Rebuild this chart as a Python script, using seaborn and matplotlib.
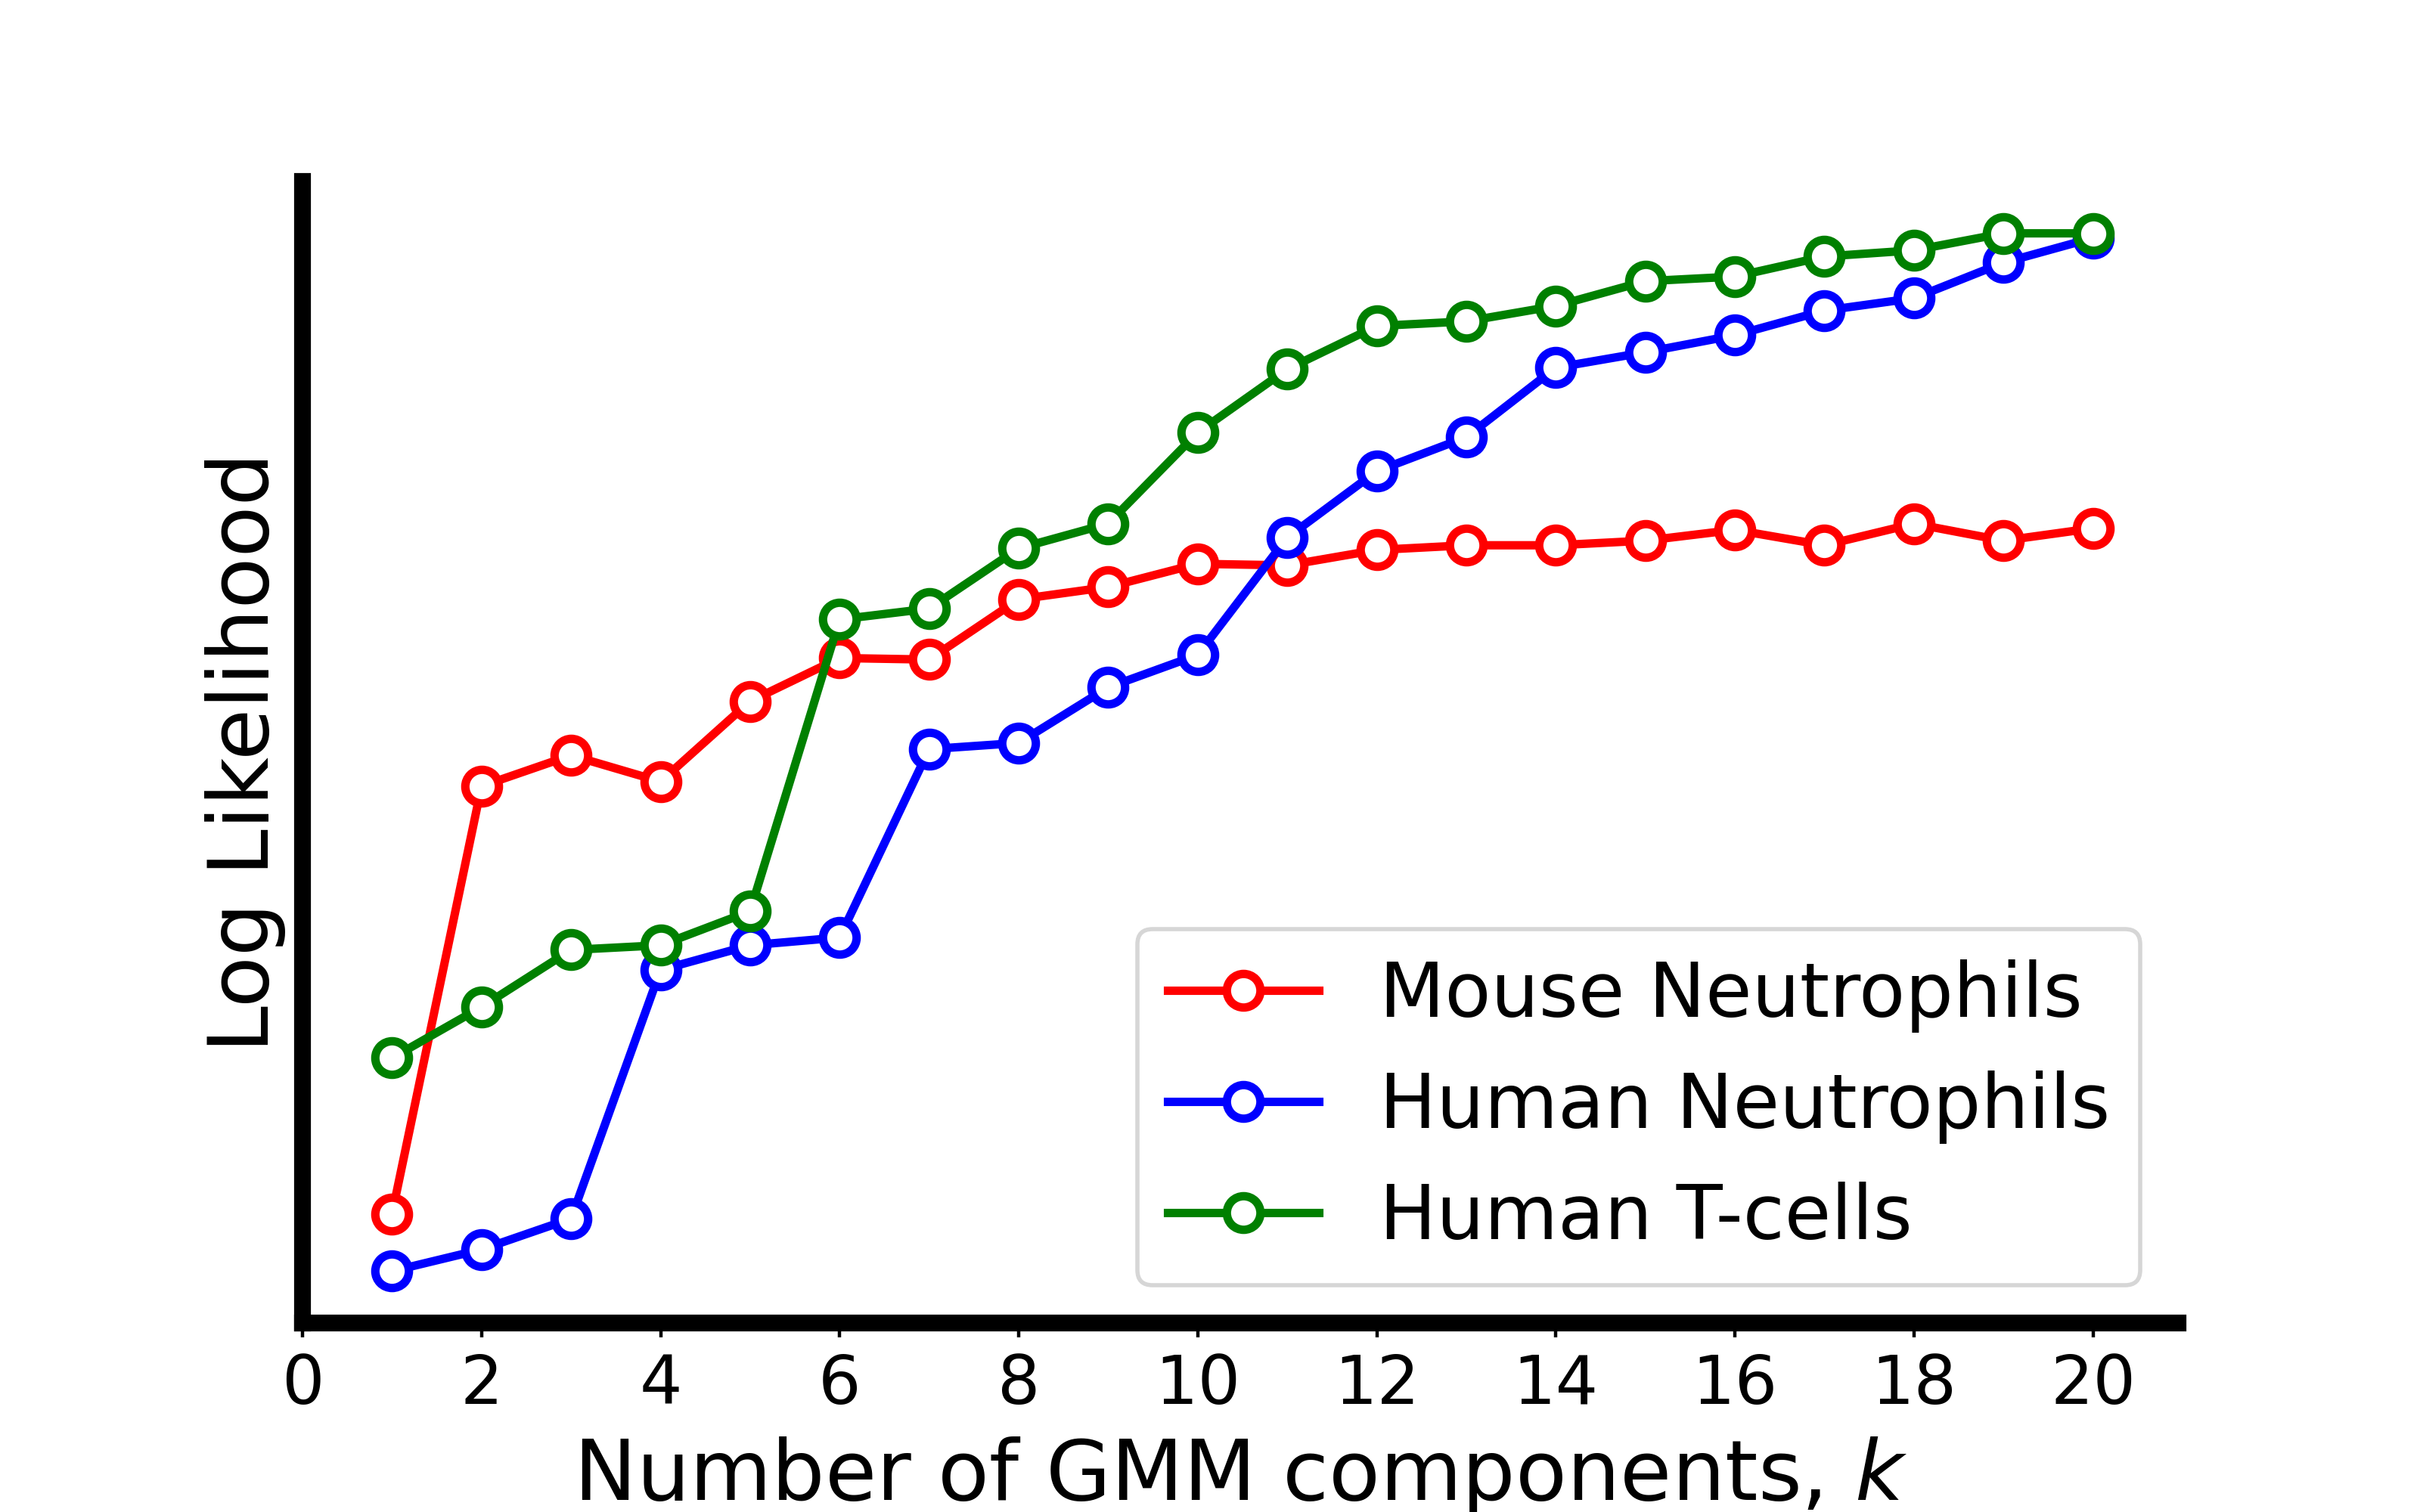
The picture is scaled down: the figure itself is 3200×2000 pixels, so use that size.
import pandas as pd
import matplotlib
matplotlib.use("Agg")
import matplotlib.pyplot as plt
import seaborn as sns

# number of GMM components
k = [1, 2, 3, 4, 5, 6, 7, 8, 9, 10, 11, 12, 13, 14, 15, 16, 17, 18, 19, 20]

# log likelihood (arbitrary units)
mouse_neutrophils = [-786, -509, -489, -506, -454, -426, -427, -388, -380, -365,
                     -366, -356, -353, -353, -350, -343, -353, -339, -350, -342]
human_neutrophils = [-823, -809, -789, -628, -612, -607, -485, -481, -445, -424,
                     -348, -305, -283, -238, -228, -217, -201, -193, -170, -154]
human_tcells = [-685, -652, -615, -612, -590, -401, -394, -355, -339, -280,
                -239, -211, -208, -198, -182, -179, -166, -162, -151, -151]

series = [("Mouse Neutrophils", mouse_neutrophils, "red"),
          ("Human Neutrophils", human_neutrophils, "blue"),
          ("Human T-cells", human_tcells, "green")]

fig, ax = plt.subplots(figsize=(8, 5), dpi=400)
fig.subplots_adjust(left=0.125, right=0.9, bottom=0.125, top=0.88)

for name, vals, col in series:
    df = pd.DataFrame({"k": k, "ll": vals})
    sns.lineplot(data=df, x="k", y="ll", ax=ax, color=col, label=name,
                 linewidth=2, marker="o", markersize=8, markeredgewidth=2,
                 markerfacecolor="white", markeredgecolor=col)

ax.set_xlim(left=0)
ax.set_xticks(range(0, 21, 2))
ax.set_yticks([])
ax.tick_params(axis="x", labelsize=16)
ax.set_xlabel("Number of GMM components, $k$", fontsize=20)
ax.set_ylabel("Log Likelihood", fontsize=20)

for s in ["top", "right"]:
    ax.spines[s].set_visible(False)
for s in ["left", "bottom"]:
    ax.spines[s].set_linewidth(4)

ax.legend(loc="lower right", fontsize=18)

plt.savefig("out.png", dpi=400)
